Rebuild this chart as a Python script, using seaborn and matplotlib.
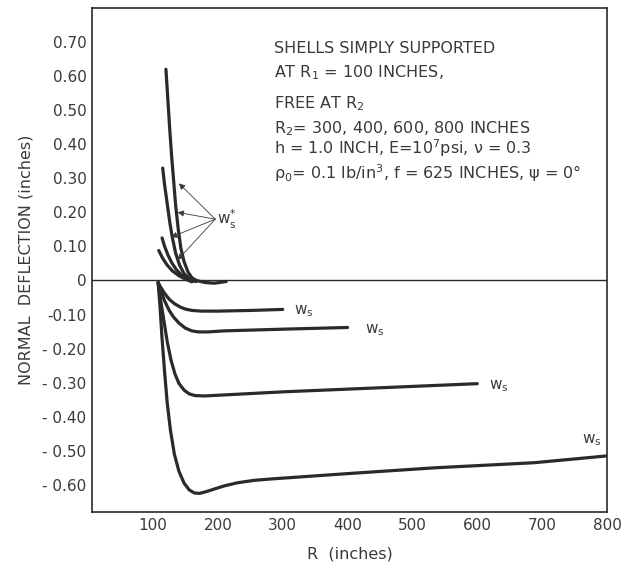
import numpy as np
import pandas as pd
import matplotlib
matplotlib.use("Agg")
import matplotlib.pyplot as plt
import seaborn as sns

# w_s curves (negative), one per outer radius R2
r300 = [108, 112, 118, 125, 133, 142, 150, 160, 175, 200, 250, 300]
w300 = [-0.006, -0.020, -0.038, -0.055, -0.068, -0.078, -0.084, -0.088,
        -0.090, -0.090, -0.088, -0.085]
r400 = [108, 113, 118, 125, 132, 140, 150, 160, 170, 185, 209, 300, 400]
w400 = [-0.006, -0.035, -0.060, -0.088, -0.108, -0.125, -0.140, -0.148,
        -0.151, -0.151, -0.148, -0.143, -0.138]
r600 = [108, 112, 117, 122, 128, 134, 140, 148, 156, 165, 180, 200, 300, 450, 600]
w600 = [-0.006, -0.060, -0.120, -0.180, -0.235, -0.275, -0.302, -0.322,
        -0.333, -0.338, -0.339, -0.337, -0.327, -0.315, -0.303]
r800 = [108, 111, 114, 118, 122, 127, 133, 140, 148, 156, 164, 172, 182,
        195, 210, 230, 255, 280, 400, 534, 688, 800]
w800 = [-0.006, -0.080, -0.170, -0.270, -0.360, -0.440, -0.510, -0.560,
        -0.595, -0.615, -0.624, -0.625, -0.620, -0.612, -0.603, -0.594,
        -0.587, -0.583, -0.567, -0.550, -0.535, -0.515]

# w_s* curves (positive)
rp800 = [120, 123, 126, 129, 132, 135, 139, 143, 148, 154, 160, 167, 180, 195, 213]
wp800 = [0.62, 0.53, 0.44, 0.36, 0.29, 0.22, 0.15, 0.095, 0.055, 0.025,
         0.008, 0.0, -0.006, -0.008, -0.003]
rp600 = [115, 118, 122, 126, 130, 135, 141, 148, 156, 167]
wp600 = [0.33, 0.28, 0.225, 0.17, 0.125, 0.08, 0.045, 0.02, 0.006, -0.003]
rp400 = [114, 118, 123, 129, 136, 144, 153, 165]
wp400 = [0.125, 0.10, 0.075, 0.052, 0.032, 0.016, 0.005, -0.003]
rp300 = [109, 115, 122, 130, 140, 150, 160]
wp300 = [0.088, 0.065, 0.045, 0.028, 0.014, 0.004, -0.004]

# arrow tips for the w_s* label
arrow_r = [140, 138, 128, 138]
arrow_w = [0.285, 0.20, 0.127, 0.06]

xticks = [100, 200, 300, 400, 500, 600, 700, 800]
yticks = [0.7, 0.6, 0.5, 0.4, 0.3, 0.2, 0.1, 0, -0.1, -0.2, -0.3, -0.4, -0.5, -0.6]
ylabels = ["0.70", "0.60", "0.50", "0.40", "0.30", "0.20", "0.10", "0",
           "-0.10", "- 0.20", "- 0.30", "- 0.40", "- 0.50", "- 0.60"]

sns.set_style("white")
plt.rcParams['font.family'] = ['DejaVu Sans']
plt.rcParams['mathtext.default'] = 'regular'

ink = '#2a2a2a'
txt = '#3a3a3a'

curves = [(r300, w300), (r400, w400), (r600, w600), (r800, w800),
          (rp800, wp800), (rp600, wp600), (rp400, wp400), (rp300, wp300)]
frames = []
for i, (r, w) in enumerate(curves):
    frames.append(pd.DataFrame({'R': r, 'w': w, 'curve': i}))
df = pd.concat(frames, ignore_index=True)

fig = plt.figure(figsize=(6.41, 5.69), dpi=100)
ax = fig.add_axes([0.1435, 0.100, 0.8035, 0.886])

ax.axhline(0, color=ink, lw=1.0)
sns.lineplot(data=df, x='R', y='w', units='curve', estimator=None, sort=False,
             color=ink, lw=2.3, ax=ax)

# labels at curve ends
ax.text(318, -0.09, r'$w_s$', fontsize=11, color=txt, va='center')
ax.text(427, -0.147, r'$w_s$', fontsize=11, color=txt, va='center')
ax.text(618, -0.31, r'$w_s$', fontsize=11, color=txt, va='center')
ax.text(762, -0.47, r'$w_s$', fontsize=11, color=txt, va='center')

# w_s* label with arrows
for r, w in zip(arrow_r, arrow_w):
    ax.annotate('', xy=(r, w), xytext=(196, 0.18),
                arrowprops=dict(arrowstyle='-|>', color=txt, lw=0.6,
                                mutation_scale=9, shrinkA=0, shrinkB=0))
ax.text(198, 0.18, r'$w_s^{*}$', fontsize=11, color=txt, va='center')

lines = [
    (0.680, "SHELLS SIMPLY SUPPORTED"),
    (0.610, r"AT R$_1$ = 100 INCHES,"),
    (0.520, r"FREE AT R$_2$"),
    (0.446, r"R$_2$= 300, 400, 600, 800 INCHES"),
    (0.387, r"h = 1.0 INCH, E=10$^7$psi, $\nu$ = 0.3"),
    (0.314, r"$\rho_0$= 0.1 lb/in$^3$, f = 625 INCHES, $\psi$ = 0°"),
]
for y, s in lines:
    ax.text(286, y, s, fontsize=11.5, color=txt, va='center')

ax.set_xlim(6, 800)
ax.set_ylim(-0.68, 0.80)
ax.set_xticks(xticks)
ax.set_xticklabels([str(t) for t in xticks])
ax.set_yticks(yticks)
ax.set_yticklabels(ylabels)
ax.tick_params(direction='in', length=10, width=0.9, colors=ink,
               labelcolor=txt, labelsize=11, pad=4)
for s in ax.spines.values():
    s.set_color(ink)
    s.set_linewidth(1.2)

ax.set_xlabel('R  (inches)', fontsize=11.5, color=txt, labelpad=10)
ax.set_ylabel('NORMAL  DEFLECTION (inches)', fontsize=11.5, color=txt, labelpad=6)

fig.savefig('out.png', dpi=100)
